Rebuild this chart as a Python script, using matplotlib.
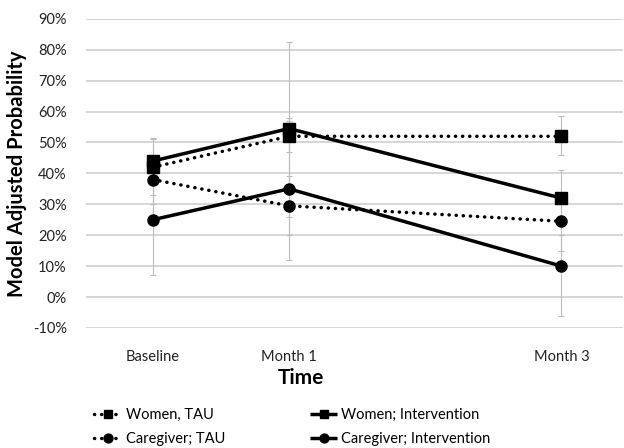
import numpy as np
import matplotlib
matplotlib.use("Agg")
import matplotlib.pyplot as plt

plt.rcParams['font.family'] = ['Lato', 'DejaVu Sans']

months = [0, 1, 3]
time_labels = ["Baseline", "Month 1", "Month 3"]

women_tau = [0.42, 0.52, 0.52]
women_tau_lo = [0.33, 0.47, 0.46]
women_tau_hi = [0.51, 0.57, 0.585]

women_int = [0.44, 0.545, 0.32]
women_int_lo = [0.37, 0.26, 0.23]
women_int_hi = [0.515, 0.825, 0.41]

care_tau = [0.38, 0.295, 0.245]
care_tau_lo = [0.30, 0.20, 0.15]
care_tau_hi = [0.46, 0.39, 0.34]

care_int = [0.25, 0.35, 0.10]
care_int_lo = [0.07, 0.12, -0.06]
care_int_hi = [0.43, 0.58, 0.20]

fig = plt.figure(figsize=(6.24, 4.48), dpi=100)
ax = fig.add_axes([0.138, 0.268, 0.86, 0.69])

dotted = (0, (0.05, 2.0))
series = [
    ("Women, TAU", women_tau, women_tau_lo, women_tau_hi, 's', dotted),
    ("Women; Intervention", women_int, women_int_lo, women_int_hi, 's', '-'),
    ("Caregiver; TAU", care_tau, care_tau_lo, care_tau_hi, 'o', dotted),
    ("Caregiver; Intervention", care_int, care_int_lo, care_int_hi, 'o', '-'),
]

handles = {}
for name, y, lo, hi, mk, ls in series:
    y = np.array(y)
    err = [y - np.array(lo), np.array(hi) - y]
    ax.errorbar(months, y, yerr=err, fmt='none', ecolor='#bcbcbc',
                elinewidth=0.8, capsize=2.5, capthick=0.8, zorder=2)
    h, = ax.plot(months, y, color='black', linestyle=ls, linewidth=2.5,
                 marker=mk, markersize=8,
                 dash_capstyle='round', solid_capstyle='butt', zorder=3, label=name)
    handles[name] = h

ax.set_ylim(-0.10, 0.90)
ax.set_xlim(-0.49, 3.45)
ax.set_yticks(np.arange(-0.1, 0.91, 0.1))
ax.set_yticklabels([f"{int(round(v * 100))}%" for v in np.arange(-0.1, 0.91, 0.1)])
ax.set_xticks(months)
ax.set_xticklabels(time_labels)
ax.yaxis.grid(True, color='#d0d0d0', linewidth=1.2)
ax.set_axisbelow(True)
for s in ax.spines.values():
    s.set_visible(False)
ax.tick_params(axis='both', length=0, labelsize=10.5, colors='#222222')
ax.tick_params(axis='x', pad=16)
ax.tick_params(axis='y', pad=14)

ax.set_ylabel("Model Adjusted Probability", fontsize=14.5, fontweight='bold', labelpad=4)
ax.set_xlabel("Time", fontsize=15, fontweight='bold')
ax.xaxis.set_label_coords(0.4, -0.128)

# ncol fills column-first, so order gives rows: Women | Caregiver
order = ["Women, TAU", "Caregiver; TAU", "Women; Intervention", "Caregiver; Intervention"]
leg = fig.legend([handles[n] for n in order], order, loc='lower left',
                 bbox_to_anchor=(0.135, -0.018), ncol=2, frameon=False,
                 fontsize=10.5, columnspacing=5.8, handlelength=1.9,
                 handletextpad=0.25, labelspacing=0.7, markerscale=0.8,
                 borderpad=0.2)

fig.savefig("out.png", dpi=100)
